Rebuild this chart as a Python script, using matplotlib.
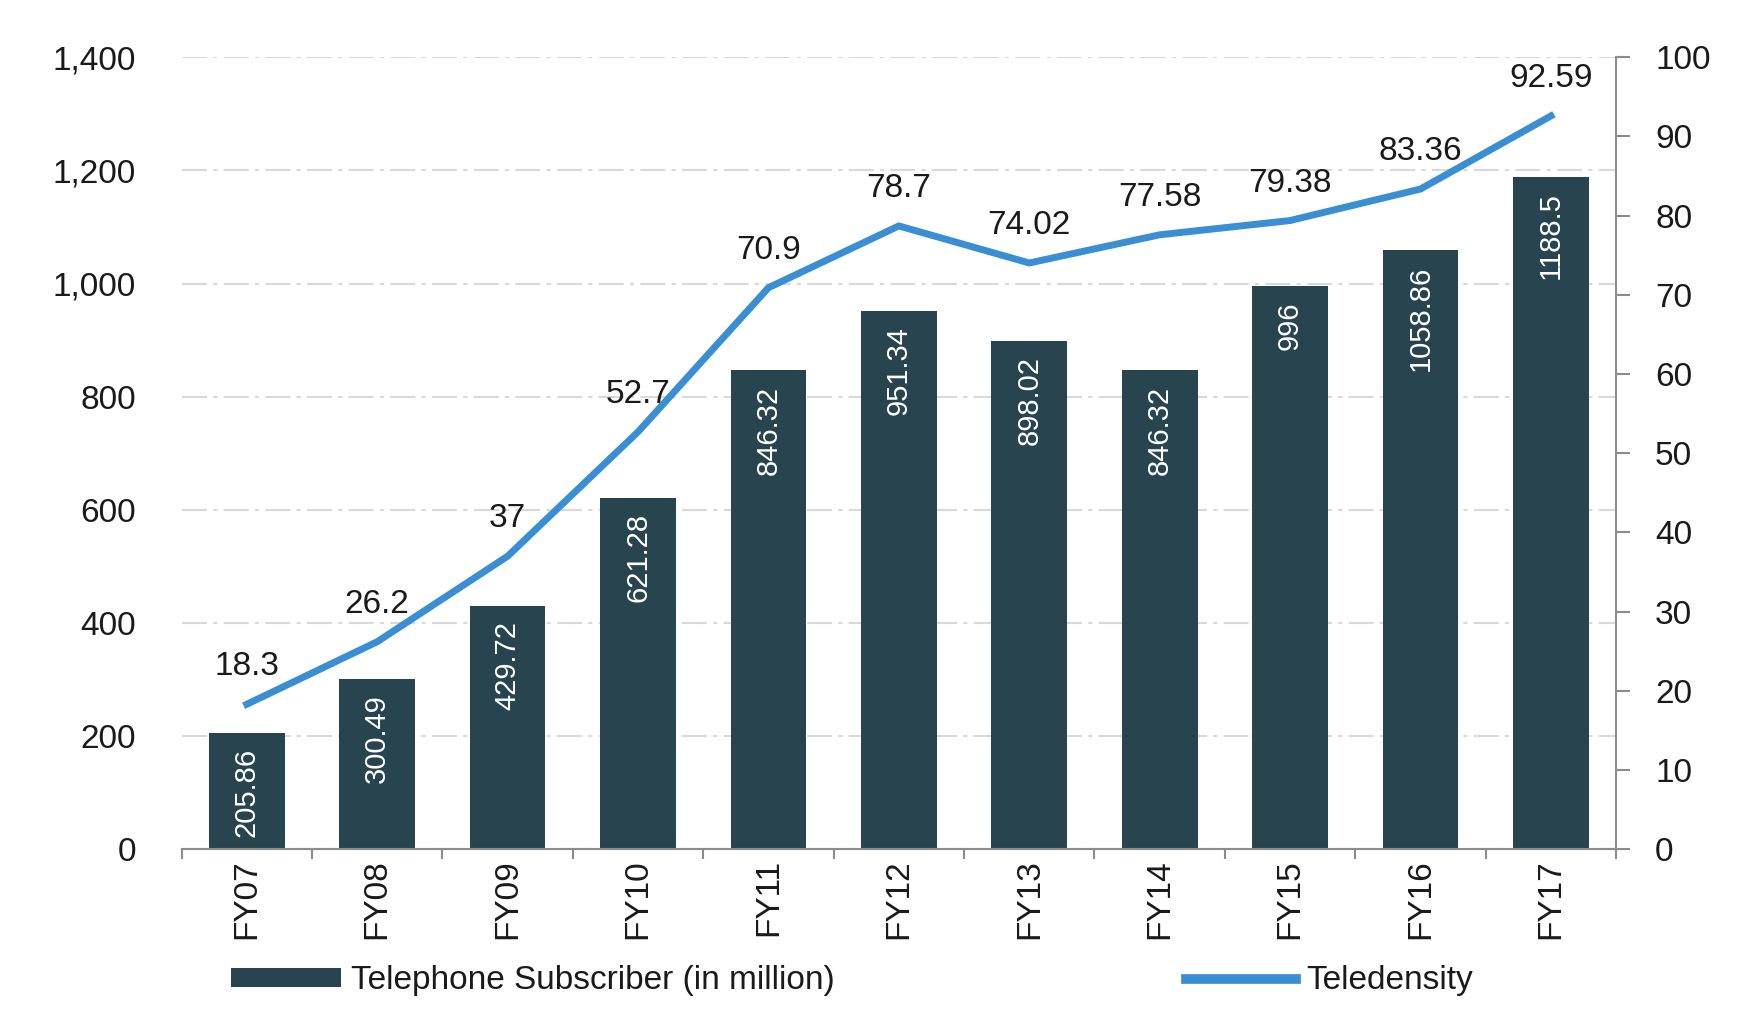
import numpy as np
import matplotlib.pyplot as plt
from matplotlib.patches import Patch
from matplotlib.lines import Line2D
from matplotlib.ticker import FuncFormatter

plt.rcParams['font.family'] = ['Liberation Sans', 'DejaVu Sans']

years = ['FY07', 'FY08', 'FY09', 'FY10', 'FY11', 'FY12', 'FY13', 'FY14', 'FY15', 'FY16', 'FY17']
subscribers = [205.86, 300.49, 429.72, 621.28, 846.32, 951.34, 898.02, 846.32, 996, 1058.86, 1188.5]
sub_labels = ['205.86', '300.49', '429.72', '621.28', '846.32', '951.34', '898.02', '846.32', '996', '1058.86', '1188.5']
teledensity = [18.3, 26.2, 37, 52.7, 70.9, 78.7, 74.02, 77.58, 79.38, 83.36, 92.59]
tele_labels = ['18.3', '26.2', '37', '52.7', '70.9', '78.7', '74.02', '77.58', '79.38', '83.36', '92.59']

bar_color = '#28454f'
line_color = '#3a8fd4'
axis_gray = '#8c8c8c'
text_color = '#1a1a1a'

fig = plt.figure(figsize=(17.63, 10.11), dpi=100)
ax = fig.add_axes([0.103, 0.16, 0.8137, 0.7834])
x = np.arange(len(years))

ax.set_axisbelow(True)
ax.grid(axis='y', color='#d9d9d9', linewidth=1.5, linestyle=(0, (12, 3, 2, 3)))
ax.bar(x, subscribers, width=0.58, color=bar_color, zorder=2)
for xi, v, s in zip(x, subscribers, sub_labels):
    ax.annotate(s, (xi, v), xytext=(0, -11), textcoords='offset points',
                rotation=90, ha='center', va='top', color='white', fontsize=21, zorder=3)

ax.set_xlim(-0.5, len(years) - 0.5)
ax.set_ylim(0, 1400)
ax.set_yticks(np.arange(0, 1401, 200))
ax.yaxis.set_major_formatter(FuncFormatter(lambda v, p: f'{int(v):,}'))
ax.tick_params(axis='y', length=0, pad=33, labelsize=24, labelcolor=text_color)
ax.set_xticks(x)
ax.set_xticklabels(years, rotation=90, fontsize=24, color=text_color)
ax.set_xticks(np.arange(-0.5, len(years)), minor=True)
ax.tick_params(axis='x', which='major', length=0, pad=7)
ax.tick_params(axis='x', which='minor', length=7, width=1.5, color=axis_gray, direction='out')
for s in ['top', 'left', 'right']:
    ax.spines[s].set_visible(False)
ax.spines['bottom'].set_color(axis_gray)
ax.spines['bottom'].set_linewidth(1.5)

ax2 = ax.twinx()
ax2.plot(x, teledensity, color=line_color, linewidth=5, solid_joinstyle='round', zorder=4)
for xi, v, s in zip(x, teledensity, tele_labels):
    ax2.annotate(s, (xi, v), xytext=(0, 27), textcoords='offset points',
                 ha='center', va='center', fontsize=24, color=text_color)
ax2.set_ylim(0, 100)
ax2.set_yticks(np.arange(0, 101, 10))
ax2.tick_params(axis='y', length=10, width=1.5, color=axis_gray, pad=18,
                labelsize=24, labelcolor=text_color)
for s in ['top', 'left', 'bottom']:
    ax2.spines[s].set_visible(False)
ax2.spines['right'].set_color(axis_gray)
ax2.spines['right'].set_linewidth(1.5)

# two separate legends so each entry sits where the original has it
leg_kw = dict(loc='center left', frameon=False, fontsize=24, handlelength=3.3,
              handleheight=0.5, handletextpad=0.3, borderpad=0, borderaxespad=0,
              labelcolor=text_color)
fig.legend([Patch(facecolor=bar_color, edgecolor='none')],
           ['Telephone Subscriber (in million)'],
           bbox_to_anchor=(0.131, 0.030), **leg_kw)
fig.legend([Line2D([0], [0], color=line_color, linewidth=7)], ['Teledensity'],
           bbox_to_anchor=(0.673, 0.030), **leg_kw)

fig.savefig('out.png', dpi=100)
